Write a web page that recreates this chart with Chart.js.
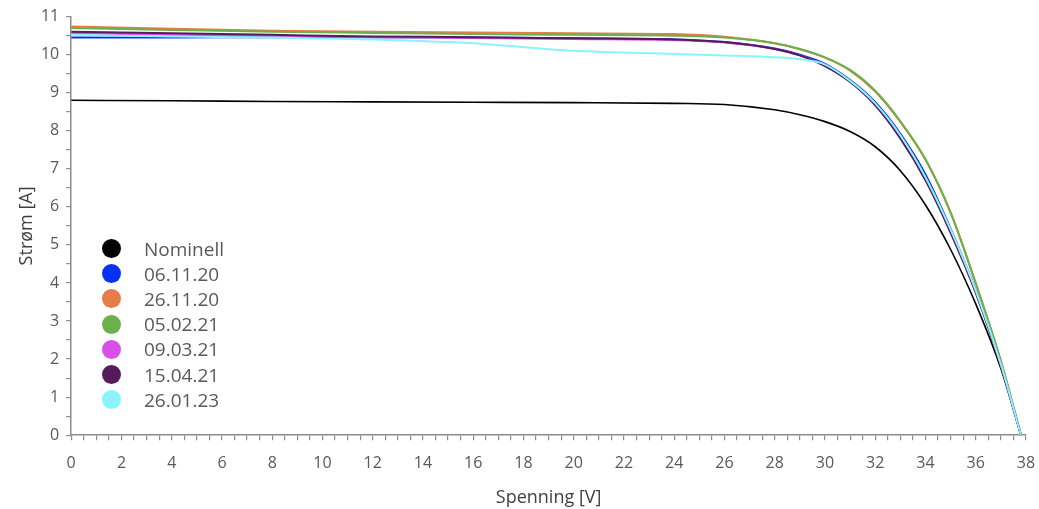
<!DOCTYPE html>
<html>
<head>
<meta charset="utf-8">
<script src="https://cdn.jsdelivr.net/npm/chart.js@4"></script>
<style>
  body { margin: 0; background: #fff; }
  #wrap { position: relative; width: 1039px; height: 509px; }
  #legend { position: absolute; left: 102px; top: 236px; font-family: "Open Sans", sans-serif; font-size: 19px; color: #595959; }
  #legend div { height: 25.2px; line-height: 20px; display: flex; align-items: center; }
  #legend span.dot { width: 19px; height: 19px; border-radius: 50%; display: inline-block; margin-right: 23px; }
</style>
</head>
<body>
<div id="wrap">
  <canvas id="chart" width="1039" height="509"></canvas>
  <div id="legend"></div>
</div>
<script>
// Spenning [V] grid shared by all curves
const voltage = [0, 4, 8, 12, 16, 20, 24, 26, 28, 29, 30, 31, 32, 33, 34, 35, 36, 37, 37.8]

const nominell = [8.80, 8.79, 8.77, 8.76, 8.75, 8.74, 8.72, 8.69, 8.55, 8.42, 8.24, 7.98, 7.58, 6.95, 6.05, 4.88, 3.45, 1.75, 0]
const d061120  = [10.45, 10.45, 10.46, 10.46, 10.45, 10.43, 10.40, 10.33, 10.16, 10.00, 9.76, 9.33, 8.75, 7.92, 6.85, 5.42, 3.80, 1.88, 0]
const d261120  = [10.74, 10.68, 10.63, 10.60, 10.58, 10.56, 10.54, 10.47, 10.30, 10.14, 9.92, 9.58, 9.03, 8.23, 7.24, 5.85, 3.98, 1.95, 0]
const d050221  = [10.70, 10.65, 10.60, 10.57, 10.54, 10.52, 10.50, 10.45, 10.30, 10.15, 9.93, 9.60, 9.05, 8.25, 7.25, 5.85, 4.00, 1.95, 0]
const d090321  = [10.57, 10.52, 10.50, 10.46, 10.44, 10.41, 10.38, 10.32, 10.15, 9.98, 9.72, 9.30, 8.70, 7.85, 6.74, 5.38, 3.78, 1.85, 0]
const d150421  = [10.60, 10.56, 10.52, 10.48, 10.46, 10.43, 10.40, 10.33, 10.15, 9.98, 9.70, 9.28, 8.67, 7.80, 6.70, 5.32, 3.74, 1.82, 0]
const d260123  = [10.52, 10.48, 10.45, 10.40, 10.30, 10.10, 10.02, 9.98, 9.93, 9.88, 9.74, 9.31, 8.72, 7.88, 6.78, 5.40, 3.80, 1.86, 0]

const seriesNames = ['Nominell', '06.11.20', '26.11.20', '05.02.21', '09.03.21', '15.04.21', '26.01.23']
const seriesValues = [nominell, d061120, d261120, d050221, d090321, d150421, d260123]
const seriesColors = ['#000000', '#0531f5', '#e47d46', '#6ab04c', '#d84fe8', '#561b5a', '#88f4ff']

const datasets = seriesNames.map((name, i) => ({
  label: name,
  data: voltage.map((v, j) => ({ x: v, y: seriesValues[i][j] })),
  borderColor: seriesColors[i],
  backgroundColor: seriesColors[i],
  borderWidth: i == 0 ? 1.6 : 2,
  pointRadius: 0,
  cubicInterpolationMode: 'monotone',
  order: seriesNames.length - i
}))

const tickFont = { family: "'Open Sans', sans-serif", size: 16 }
const titleFont = { family: "'Open Sans', sans-serif", size: 18 }
const axisGray = '#8c8c8c'

new Chart(document.getElementById('chart'), {
  type: 'line',
  data: { datasets: datasets },
  options: {
    responsive: false,
    animation: false,
    layout: { padding: { top: 14, right: 0, left: 19.5, bottom: 0 } },
    plugins: { legend: { display: false }, tooltip: { enabled: false } },
    scales: {
      x: {
        type: 'linear',
        min: 0, max: 38,
        afterFit: (scale) => { scale.paddingRight = 13 },
        border: { color: axisGray, width: 1.5 },
        grid: { drawOnChartArea: false, drawTicks: true, tickLength: 5, color: axisGray, lineWidth: 1.2 },
        ticks: {
          stepSize: 0.5, autoSkip: false, maxRotation: 0, color: '#595959', font: tickFont, padding: 14,
          callback: (value) => value % 2 === 0 ? value : ''
        },
        title: { display: true, text: 'Spenning [V]', color: '#404040', font: titleFont, padding: { top: 0, bottom: 0 } }
      },
      y: {
        min: 0, max: 11,
        border: { color: axisGray, width: 1.5 },
        grid: { drawOnChartArea: false, drawTicks: true, tickLength: 5, color: axisGray, lineWidth: 1.2 },
        ticks: {
          stepSize: 0.5, autoSkip: false, color: '#595959', font: tickFont, padding: 7,
          callback: (value) => Number.isInteger(value) ? value : ''
        },
        title: { display: true, text: 'Strøm [A]', color: '#404040', font: { ...titleFont, lineHeight: 0.8 }, padding: { top: 0, bottom: 0 } }
      }
    }
  }
})

const legend = document.getElementById('legend')
seriesNames.forEach((name, i) => {
  const row = document.createElement('div')
  row.innerHTML = `<span class="dot" style="background:${seriesColors[i]}"></span>${name}`
  legend.appendChild(row)
})
</script>
</body>
</html>
